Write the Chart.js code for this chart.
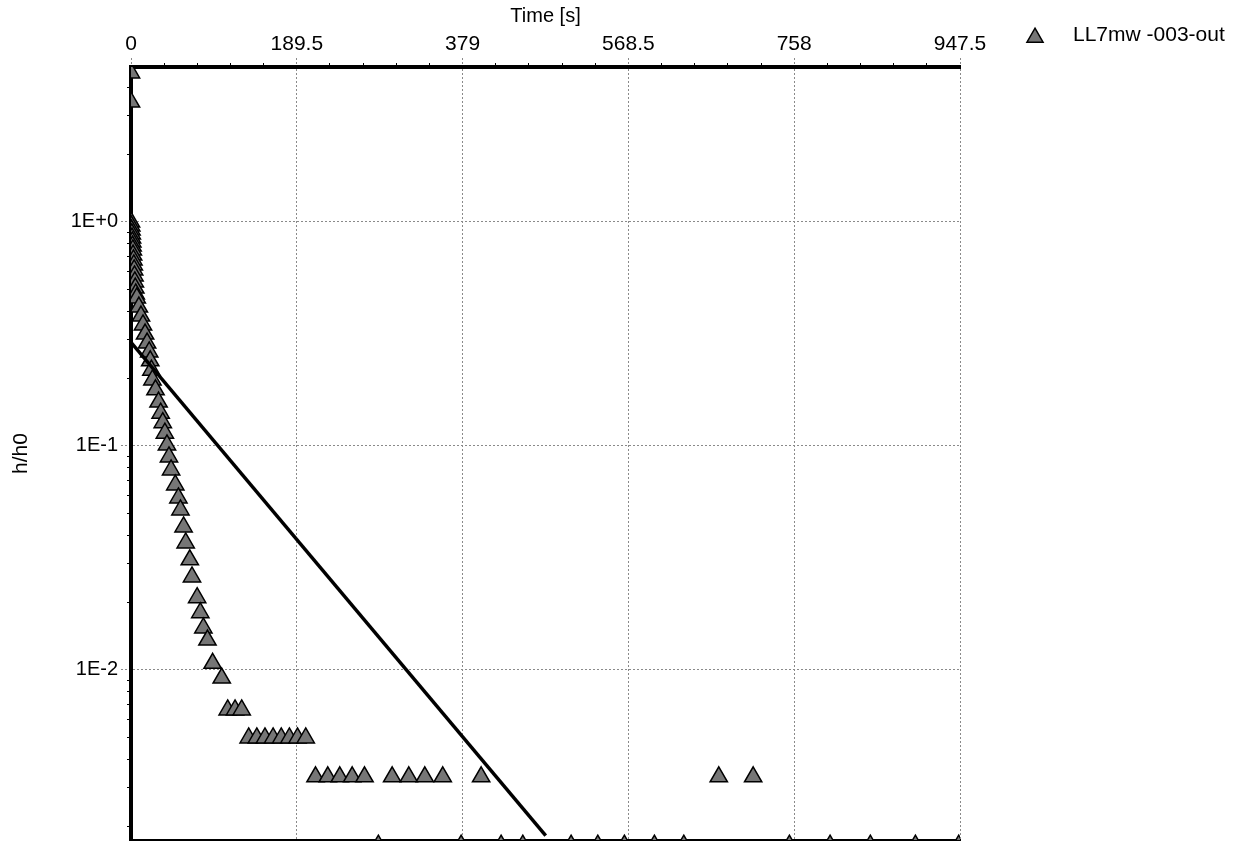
<!DOCTYPE html>
<html>
<head>
<meta charset="utf-8">
<script src="https://cdn.jsdelivr.net/npm/chart.js@4.4.1/dist/chart.umd.min.js"></script>
<style>
  html, body { margin: 0; padding: 0; background: #fff; }
  #wrap { width: 1247px; height: 843px; position: relative; }
</style>
</head>
<body>
<div id="wrap"><canvas id="slugChart"></canvas></div>
<script>
const seriesLabel = 'LL7mw -003-out';

// measured points (time in s, normalized head h/h0)
const timeS = [
  0, 0,
  0.0, 0.3, 0.6, 0.9, 1.2, 1.5, 1.8, 2.1, 2.4, 2.8, 3.2, 3.6, 4.0, 4.4, 4.9, 5.4,
  6.6, 9.0, 11.4, 13.7, 16.1, 18.4, 20.8, 22.0, 23.3, 24.5, 28.0, 31.5, 33.9, 36.3, 38.7,
  41.1, 43.4, 45.8, 50.6, 54.2, 56.5, 60.1, 62.5, 67.2, 69.7, 75.6, 79.2, 82.7, 87.4, 93.3, 103.7,
  110.5, 118.9, 126.5,
  134.5, 143.8, 153.1, 162.4, 171.7, 181.0, 190.3, 199.7,
  210.9, 224.9, 238.6, 252.8, 266.9, 298.5, 317.5, 335.8, 356.3, 400.2, 671.8, 711.1,
  282.7, 377.3, 423.0, 447.8, 503.0, 533.5, 563.9, 598.2, 631.8, 752.5, 799.0, 845.0, 896.5, 946.0
];
const hRatio = [
  4.63, 3.43,
  1.0, 0.96, 0.92, 0.884, 0.848, 0.814, 0.781, 0.75, 0.712, 0.677, 0.643, 0.611, 0.574, 0.54, 0.507, 0.477,
  0.458, 0.417, 0.38, 0.347, 0.316, 0.288, 0.263, 0.24, 0.218, 0.197, 0.178, 0.157, 0.14, 0.127, 0.114,
  0.101, 0.0893, 0.0781, 0.067, 0.0586, 0.0518, 0.0435, 0.0369, 0.031, 0.026, 0.021, 0.018, 0.0154, 0.0136, 0.0107, 0.0092,
  0.00663, 0.00663, 0.00663,
  0.00497, 0.00497, 0.00497, 0.00497, 0.00497, 0.00497, 0.00497, 0.00497,
  0.00333, 0.00333, 0.00333, 0.00333, 0.00333, 0.00333, 0.00333, 0.00333, 0.00333, 0.00333, 0.00333, 0.00333,
  0.00165, 0.00165, 0.00165, 0.00165, 0.00165, 0.00165, 0.00165, 0.00165, 0.00165, 0.00165, 0.00165, 0.00165, 0.00165, 0.00165
];

// straight-line match
const fitTime = [0, 474];
const fitRatio = [0.29, 0.00182];

const xTicks = [0, 189.5, 379, 568.5, 758, 947.5];
const xTickLabels = ['0', '189.5', '379', '568.5', '758', '947.5'];
const yTicks = [1, 0.1, 0.01];
const yTickLabels = ['1E+0', '1E-1', '1E-2'];

Chart.defaults.font.family = "'Liberation Sans', Arial, sans-serif";
Chart.defaults.color = '#000';

function findTick(v, arr) {
  return arr.findIndex(m => Math.abs(m - v) <= Math.abs(m) * 1e-6 + 1e-9);
}
function isMajor(c, arr) {
  return c.tick ? findTick(c.tick.value, arr) >= 0 : true;
}

// legend drawn at the right of the plot, like the original
const sideLegend = {
  id: 'sideLegend',
  afterDraw(chart) {
    const ds = chart.data.datasets[0];
    const ctx = chart.ctx;
    const cx = chart.chartArea.right + 75, cy = 37.5, r = 9.3;
    ctx.save();
    ctx.beginPath();
    ctx.moveTo(cx, cy - r);
    ctx.lineTo(cx + r * 0.866, cy + r / 2);
    ctx.lineTo(cx - r * 0.866, cy + r / 2);
    ctx.closePath();
    ctx.fillStyle = ds.backgroundColor;
    ctx.fill();
    ctx.lineWidth = 1.5;
    ctx.strokeStyle = ds.borderColor;
    ctx.stroke();
    ctx.font = "21px 'Liberation Sans', Arial, sans-serif";
    ctx.fillStyle = '#000';
    ctx.textBaseline = 'middle';
    ctx.fillText(ds.label, chart.chartArea.right + 113, 35);
    ctx.restore();
  }
};

const ctx = document.getElementById('slugChart').getContext('2d');

new Chart(ctx, {
  type: 'scatter',
  data: {
    datasets: [
      {
        label: seriesLabel,
        data: timeS.map((t, i) => ({ x: t, y: hRatio[i] })),
        pointStyle: 'triangle',
        pointRadius: 10,
        pointHoverRadius: 10,
        backgroundColor: '#767676',
        borderColor: '#000',
        borderWidth: 1.5,
        clip: 0,
        order: 1
      },
      {
        label: 'fit',
        data: fitTime.map((t, i) => ({ x: t, y: fitRatio[i] })),
        showLine: true,
        pointRadius: 0,
        borderColor: '#000',
        borderWidth: 3.5,
        clip: 0,
        order: 0
      }
    ]
  },
  options: {
    responsive: true,
    maintainAspectRatio: false,
    animation: false,
    layout: { autoPadding: false, padding: { left: 0, right: 287, top: 0, bottom: 0 } },
    plugins: {
      legend: { display: false },
      tooltip: { enabled: false }
    },
    scales: {
      x: {
        type: 'linear',
        position: 'top',
        min: 0,
        max: 947.5,
        afterBuildTicks: (scale) => {
          const out = [];
          for (let i = 0; i < xTicks.length - 1; i++) {
            const step = (xTicks[i + 1] - xTicks[i]) / 5;
            for (let k = 0; k < 5; k++) out.push({ value: xTicks[i] + k * step });
          }
          out.push({ value: xTicks[xTicks.length - 1] });
          scale.ticks = out;
        },
        afterFit: (scale) => {
          scale.height = 67;
          scale.paddingLeft = 0;
          scale.paddingRight = 0;
        },
        ticks: {
          autoSkip: false,
          maxRotation: 0,
          padding: 1,
          font: { size: 21 },
          callback: (v) => {
            const i = findTick(v, xTicks);
            return i >= 0 ? xTickLabels[i] : '';
          }
        },
        grid: {
          color: (c) => isMajor(c, xTicks) ? '#8a8a8a' : 'rgba(0,0,0,0)',
          lineWidth: 1,
          tickLength: 9,
          tickColor: (c) => isMajor(c, xTicks) ? '#8a8a8a' : '#000',
          tickBorderDash: (c) => isMajor(c, xTicks) ? [2, 2] : [0, 5, 4, 100]
        },
        border: { display: true, color: '#000', width: 4, dash: [2, 2] },
        title: {
          display: true,
          text: 'Time [s]',
          font: { size: 20 },
          padding: { top: 4, bottom: 0 }
        }
      },
      x2: {
        type: 'linear',
        position: 'bottom',
        min: 0,
        max: 947.5,
        ticks: { display: false },
        grid: { display: false, drawTicks: false },
        border: { display: true, color: '#000', width: 2 },
        afterFit: (scale) => {
          scale.height = 3;
          scale.paddingLeft = 0;
          scale.paddingRight = 0;
        }
      },
      y: {
        type: 'logarithmic',
        position: 'left',
        min: 0.00174,
        max: 4.92,
        afterBuildTicks: (scale) => {
          const out = [];
          for (let e = -3; e <= 0; e++) {
            for (let m = 1; m <= 9; m++) {
              const v = m * Math.pow(10, e);
              if (v >= scale.min && v <= scale.max) out.push({ value: v });
            }
          }
          scale.ticks = out;
        },
        afterFit: (scale) => {
          scale.width = 131;
          scale.paddingTop = 0;
          scale.paddingBottom = 0;
        },
        ticks: {
          autoSkip: false,
          padding: 3,
          font: { size: 20 },
          callback: (v) => {
            const i = findTick(v, yTicks);
            return i >= 0 ? yTickLabels[i] : '';
          }
        },
        grid: {
          color: (c) => isMajor(c, yTicks) ? '#8a8a8a' : 'rgba(0,0,0,0)',
          lineWidth: 1,
          tickLength: 10,
          tickColor: (c) => isMajor(c, yTicks) ? '#8a8a8a' : '#000',
          tickBorderDash: (c) => isMajor(c, yTicks) ? [2, 2] : [0, 6, 4, 100]
        },
        border: { display: true, color: '#000', width: 4, dash: [2, 2] },
        title: {
          display: true,
          text: 'h/h0',
          font: { size: 21 },
          padding: { top: 9, bottom: 0 }
        }
      }
    }
  },
  plugins: [sideLegend]
});
</script>
</body>
</html>
